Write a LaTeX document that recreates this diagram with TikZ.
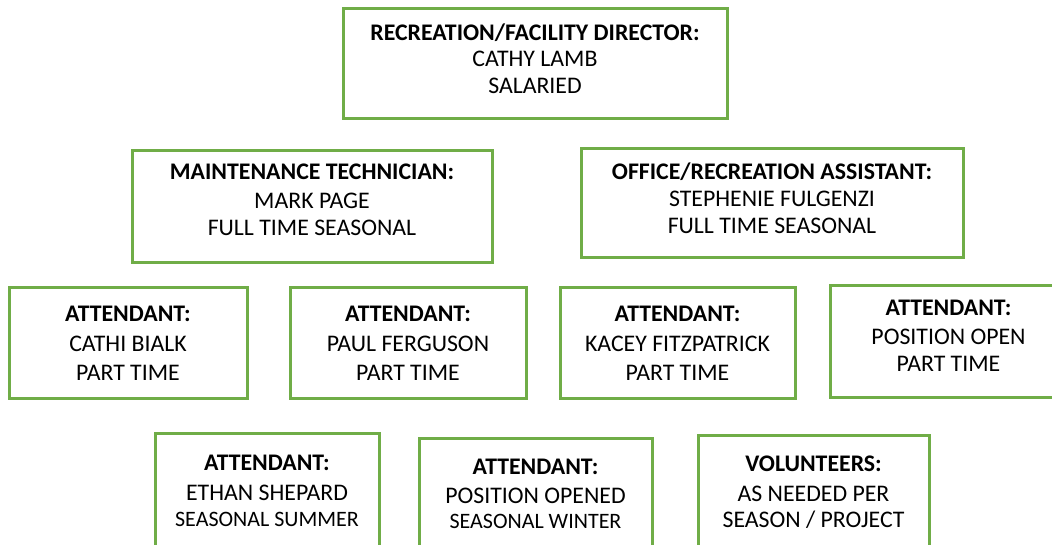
\documentclass[tikz,border=0pt]{standalone}
\usepackage{fontspec}
\setmainfont{Carlito}
\definecolor{boxgreen}{HTML}{70AD47}
\tikzset{
  rolebox/.style={draw=boxgreen, line width=3pt, fill=white, inner sep=0pt},
  wh/.style 2 args={minimum width=#1pt, minimum height=#2pt},
  roleline/.style={anchor=base, inner sep=0pt, text=black,
    font=\fontsize{23.8pt}{28pt}\selectfont},
  titleline/.style={roleline, font=\fontsize{23.8pt}{28pt}\selectfont\bfseries},
  noteline/.style={roleline, font=\fontsize{22pt}{28pt}\selectfont}
}
% three centred lines of a box: name, x, three baselines, title, name, note
\newcommand{\rolelines}[8]{%
  \node[titleline] (#1-title) at (#2,#3) {#6};
  \node[roleline]  (#1-name)  at (#2,#4) {#7};
  \node[roleline]  (#1-note)  at (#2,#5) {#8};}
\newcommand{\rolelinessmall}[8]{%
  \node[titleline] (#1-title) at (#2,#3) {#6};
  \node[roleline]  (#1-name)  at (#2,#4) {#7};
  \node[noteline]  (#1-note)  at (#2,#5) {#8};}
\begin{document}
\begin{tikzpicture}[x=1pt, y=-1pt]
  \useasboundingbox[fill=white] (0,0) rectangle (1052,544);

  % top level
  \node[rolebox, wh={384}{110}] (director) at (535,63) {};
  \rolelines{director}{535}{40.7}{66.9}{93.7}
    {RECREATION/FACILITY DIRECTOR:}{CATHY LAMB}{SALARIED}

  % second level
  \node[rolebox, wh={360}{112}] (maint) at (312,206) {};
  \rolelines{maint}{312}{179.4}{208.5}{235.2}
    {MAINTENANCE TECHNICIAN:}{MARK PAGE}{FULL TIME SEASONAL}
  \node[rolebox, wh={382}{109}] (office) at (772,202.5) {};
  \rolelines{office}{772}{179.9}{206.9}{233.5}
    {OFFICE/RECREATION ASSISTANT:}{STEPHENIE FULGENZI}{FULL TIME SEASONAL}

  % part-time attendants
  \node[rolebox, wh={238}{111}] (att1) at (128,342.5) {};
  \rolelines{att1}{128}{321.9}{351.7}{380.2}
    {ATTENDANT:}{CATHI BIALK}{PART TIME}
  \node[rolebox, wh={236}{111}] (att2) at (408,342.5) {};
  \rolelines{att2}{408}{321.9}{351.7}{380.2}
    {ATTENDANT:}{PAUL FERGUSON}{PART TIME}
  \node[rolebox, wh={235}{111}] (att3) at (677.5,342.5) {};
  \rolelines{att3}{677.5}{321.9}{351.7}{380.2}
    {ATTENDANT:}{KACEY FITZPATRICK}{PART TIME}
  \node[rolebox, wh={237}{112}] (att4) at (948.5,341) {};
  \rolelines{att4}{948.5}{315.2}{344.4}{371.7}
    {ATTENDANT:}{POSITION OPEN}{PART TIME}

  % seasonal staff and volunteers (running off the lower edge)
  \node[rolebox, wh={224}{122}] (seas1) at (267,494) {};
  \rolelinessmall{seas1}{267}{470.7}{500.7}{526.1}
    {ATTENDANT:}{ETHAN SHEPARD}{SEASONAL SUMMER}
  \node[rolebox, wh={233}{112}] (seas2) at (535.5,494) {};
  \rolelinessmall{seas2}{535.5}{474.7}{503.7}{528.1}
    {ATTENDANT:}{POSITION OPENED}{SEASONAL WINTER}
  \node[rolebox, wh={231}{118}] (vol) at (813.5,494) {};
  \rolelines{vol}{813.5}{471.7}{501.7}{527.7}
    {VOLUNTEERS:}{AS NEEDED PER}{SEASON / PROJECT}
\end{tikzpicture}
\end{document}
